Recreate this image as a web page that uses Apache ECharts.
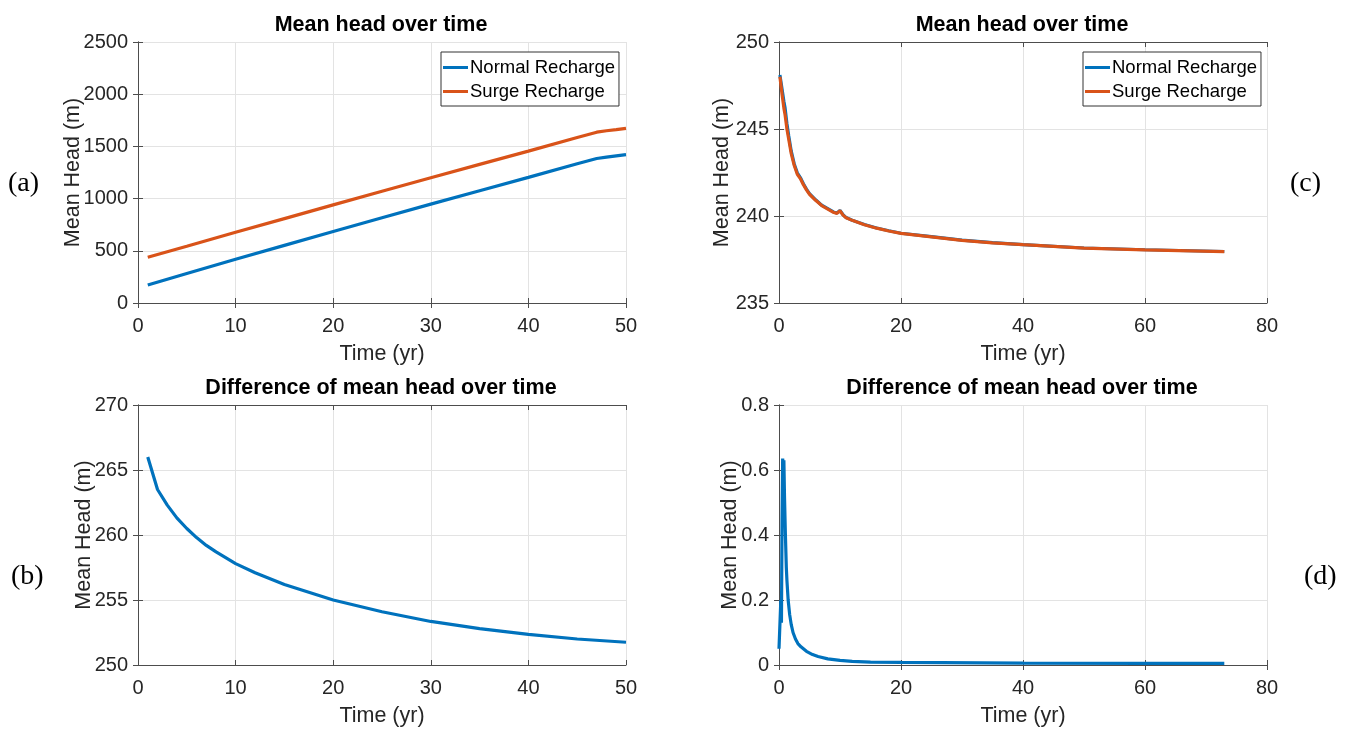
<!DOCTYPE html>
<html>
<head>
<meta charset="utf-8">
<script src="https://cdn.jsdelivr.net/npm/echarts@6/dist/echarts.min.js"></script>
<style>
  html, body { margin: 0; padding: 0; background: #fff; }
  #chart { width: 1351px; height: 730px; }
</style>
</head>
<body>
<div id="chart"></div>
<script>
// (a) mean head, 50 yr run
const yearsA = [1, 5, 10, 15, 20, 25, 30, 35, 40, 45, 47, 48, 49, 50];
const normalA = [173, 283, 419, 552, 685, 816, 947, 1075, 1203, 1334, 1384, 1398, 1410, 1421];
const surgeA = [439, 543, 677, 808, 940, 1070, 1200, 1328, 1455, 1586, 1636, 1650, 1661, 1673];

// (b) difference, 50 yr run
const yearsB = [1, 2, 3, 4, 5, 6, 7, 8, 10, 12, 15, 20, 25, 30, 35, 40, 45, 50];
const diffB = [266.0, 263.5, 262.3, 261.3, 260.5, 259.8, 259.2, 258.7, 257.8, 257.1, 256.2, 255.0, 254.1, 253.35, 252.8, 252.35, 252.0, 251.75];

// (c) mean head, 73 yr run
const yearsC = [0.15, 0.5, 0.8, 1.0, 1.3, 1.6, 2.0, 2.5, 3.0, 3.5, 3.8, 4.0, 4.5, 5, 6, 7, 8, 9, 9.5, 10, 10.5, 11, 12, 14, 16, 18, 20, 25, 30, 35, 40, 50, 60, 73];
const normalC = [248.1, 247.3, 246.6, 246.2, 245.3, 244.6, 243.74, 242.99, 242.48, 242.21, 242.16, 241.85, 241.55, 241.29, 240.93, 240.62, 240.42, 240.22, 240.17, 240.32, 240.07, 239.91, 239.76, 239.51, 239.31, 239.15, 239.01, 238.81, 238.61, 238.47, 238.36, 238.16, 238.06, 237.96];
const surgeC = [248.0, 247.0, 246.2, 245.8, 245.0, 244.4, 243.6, 242.9, 242.4, 242.15, 242.1, 241.8, 241.5, 241.25, 240.9, 240.6, 240.4, 240.2, 240.15, 240.3, 240.05, 239.9, 239.75, 239.5, 239.3, 239.14, 239.0, 238.8, 238.6, 238.46, 238.35, 238.15, 238.05, 237.95];

// (d) difference, 73 yr run
const yearsD = [0, 0.3, 0.4, 0.5, 0.6, 0.7, 0.8, 0.9, 1.05, 1.2, 1.3, 1.5, 1.75, 2.0, 2.3, 2.7, 3.1, 3.6, 4.5, 5.5, 6.4, 8, 10, 12, 15, 20, 40, 60, 73];
const diffD = [0.05, 0.2, 0.13, 0.45, 0.635, 0.61, 0.63, 0.52, 0.40, 0.30, 0.26, 0.2, 0.155, 0.125, 0.1, 0.08, 0.066, 0.056, 0.042, 0.032, 0.026, 0.019, 0.014, 0.011, 0.009, 0.008, 0.006, 0.005, 0.005];

const blue = '#0072BD';
const orange = '#D95319';
const font = 'Liberation Sans, Arial, Helvetica, sans-serif';
const gridColor = '#e3e3e3';
const axisColor = '#4d4d4d';

const zip = (xs, ys) => xs.map((x, i) => [x, ys[i]]);

const boxes = [
  { left: 138, top: 42, width: 488, height: 261 },   // a
  { left: 138, top: 405, width: 488, height: 260 },  // b
  { left: 779, top: 42, width: 488, height: 261 },   // c
  { left: 779, top: 405, width: 488, height: 260 }   // d
];

const xRanges = [[0, 50, 10], [0, 50, 10], [0, 80, 20], [0, 80, 20]];
const yRanges = [[0, 2500, 500], [250, 270, 5], [235, 250, 5], [0, 0.8, 0.2]];
const yGaps = [54, 43, 46, 38];
const fmt = v => String(+v.toFixed(4));

const xAxes = [];
const yAxes = [];
boxes.forEach((b, g) => {
  const [x0, x1, xi] = xRanges[g];
  const [y0, y1, yi] = yRanges[g];
  xAxes.push({
    type: 'value', gridIndex: g, min: x0, max: x1, interval: xi,
    name: 'Time (yr)', nameLocation: 'middle', nameGap: 40,
    nameTextStyle: { fontFamily: font, fontSize: 21.5, color: '#262626' },
    axisLine: { lineStyle: { color: axisColor } },
    axisTick: { inside: true, length: 5, lineStyle: { color: axisColor } },
    axisLabel: { fontFamily: font, fontSize: 20, color: '#262626', margin: 13, formatter: fmt },
    splitLine: { show: true, lineStyle: { color: gridColor } }
  });
  xAxes.push({
    type: 'value', gridIndex: g, position: 'top', min: x0, max: x1, interval: xi,
    axisLine: { show: true, lineStyle: { color: axisColor } },
    axisTick: { inside: true, length: 5, lineStyle: { color: axisColor } },
    axisLabel: { show: false }, splitLine: { show: false }
  });
  yAxes.push({
    type: 'value', gridIndex: g, min: y0, max: y1, interval: yi,
    name: 'Mean Head (m)', nameLocation: 'middle', nameGap: yGaps[g], nameMoveOverlap: false,
    nameTextStyle: { fontFamily: font, fontSize: 21.5, color: '#262626' },
    axisLine: { show: true, lineStyle: { color: axisColor } },
    axisTick: { show: true, inside: true, length: 5, lineStyle: { color: axisColor } },
    axisLabel: { fontFamily: font, fontSize: 20, color: '#262626', margin: 10, formatter: fmt },
    splitLine: { show: true, lineStyle: { color: gridColor } }
  });
  yAxes.push({
    type: 'value', gridIndex: g, position: 'right', min: y0, max: y1, interval: yi,
    axisLine: { show: true, lineStyle: { color: axisColor } },
    axisTick: { show: true, inside: true, length: 5, lineStyle: { color: axisColor } },
    axisLabel: { show: false }, splitLine: { show: false }
  });
});

const line = (name, g, data, color) => ({
  name, type: 'line', xAxisIndex: 2 * g, yAxisIndex: 2 * g, data,
  showSymbol: false, symbol: 'none', smooth: false,
  lineStyle: { color, width: 3.2 }, itemStyle: { color }
});

const titleStyle = { fontFamily: font, fontSize: 21.5, fontWeight: 'bold', color: '#000' };
const legendBase = {
  orient: 'vertical', icon: 'rect', itemWidth: 25, itemHeight: 3, itemGap: 5,
  backgroundColor: '#fff', borderColor: '#333', borderWidth: 1, padding: [6, 4, 5, 2],
  textStyle: { fontFamily: font, fontSize: 18.5, color: '#000', padding: [0, 0, 0, -3] },
  data: ['Normal Recharge', 'Surge Recharge'], selectedMode: false
};

const panelLabel = (text, x, y) => ({
  type: 'text', left: x, top: y,
  style: { text, font: '28px "Liberation Serif", "Times New Roman", serif', fill: '#000' }
});

const chart = echarts.init(document.getElementById('chart'));
chart.setOption({
  animation: false,
  title: [
    { text: 'Mean head over time', left: 376, top: 9, textAlign: 'center', textStyle: titleStyle },
    { text: 'Difference of mean head over time', left: 376, top: 372, textAlign: 'center', textStyle: titleStyle },
    { text: 'Mean head over time', left: 1017, top: 9, textAlign: 'center', textStyle: titleStyle },
    { text: 'Difference of mean head over time', left: 1017, top: 372, textAlign: 'center', textStyle: titleStyle }
  ],
  legend: [
    Object.assign({}, legendBase, { left: 441, top: 52 }),
    Object.assign({}, legendBase, { left: 1083, top: 52 })
  ],
  grid: boxes,
  xAxis: xAxes,
  yAxis: yAxes,
  series: [
    line('Normal Recharge', 0, zip(yearsA, normalA), blue),
    line('Surge Recharge', 0, zip(yearsA, surgeA), orange),
    line('Difference', 1, zip(yearsB, diffB), blue),
    line('Normal Recharge', 2, zip(yearsC, normalC), blue),
    line('Surge Recharge', 2, zip(yearsC, surgeC), orange),
    line('Difference', 3, zip(yearsD, diffD), blue)
  ],
  graphic: [
    panelLabel('(a)', 8, 170),
    panelLabel('(b)', 11, 563),
    panelLabel('(c)', 1290, 170),
    panelLabel('(d)', 1304, 563)
  ]
});
</script>
</body>
</html>
